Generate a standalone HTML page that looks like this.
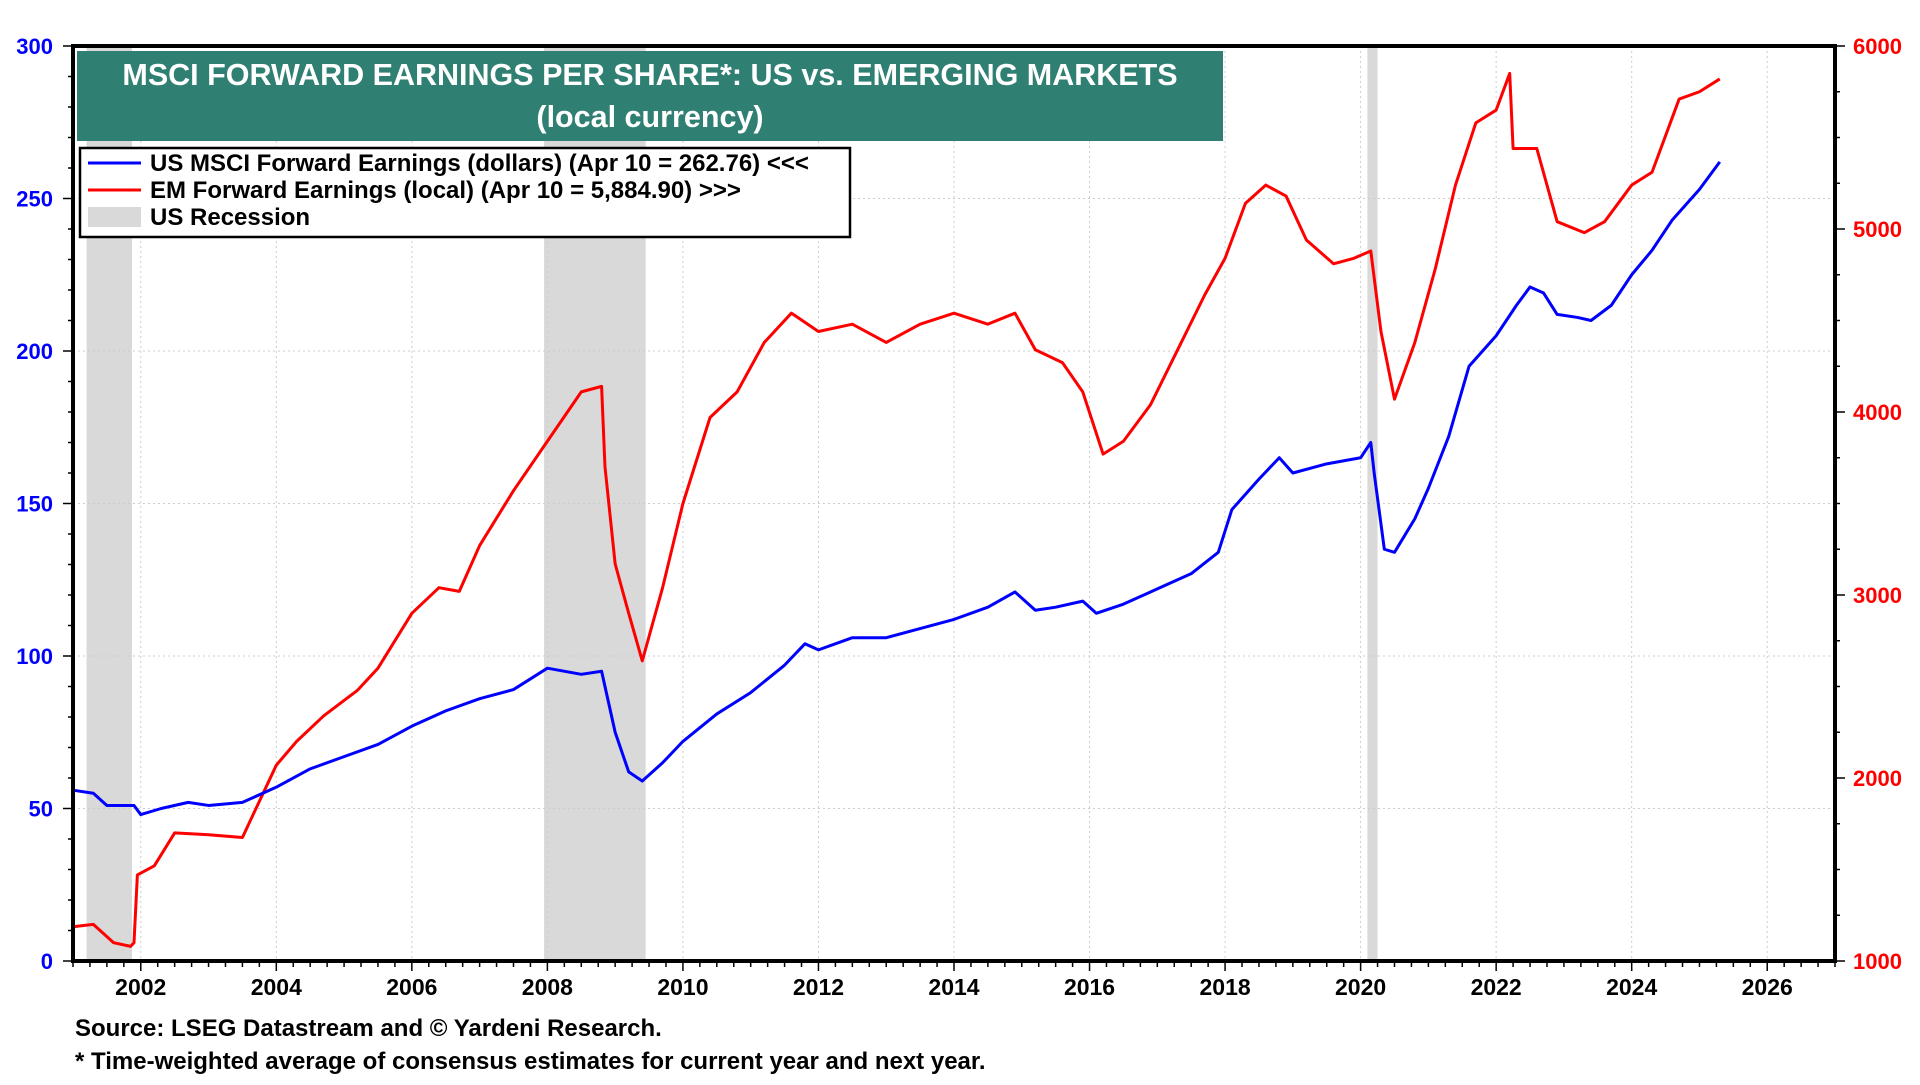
<!DOCTYPE html>
<html><head><meta charset="utf-8"><style>
body{margin:0;background:#fff;width:1920px;height:1080px;overflow:hidden;font-family:"Liberation Sans",Arial,sans-serif}
svg text{font-family:"Liberation Sans",Arial,sans-serif;font-weight:bold}
</style></head><body>
<svg id="chart" width="1920" height="1080" xmlns="http://www.w3.org/2000/svg"></svg>
<script>
const usX=[2001.0,2001.3,2001.5,2001.9,2002.0,2002.3,2002.7,2003.0,2003.5,2004.0,2004.5,2005.0,2005.5,2006.0,2006.5,2007.0,2007.5,2008.0,2008.5,2008.8,2008.9,2009.0,2009.2,2009.4,2009.7,2010.0,2010.5,2011.0,2011.5,2011.8,2012.0,2012.5,2013.0,2013.5,2014.0,2014.5,2014.9,2015.2,2015.5,2015.9,2016.1,2016.5,2017.0,2017.5,2017.9,2018.1,2018.5,2018.8,2019.0,2019.5,2020.0,2020.15,2020.2,2020.35,2020.5,2020.8,2021.0,2021.3,2021.6,2022.0,2022.3,2022.5,2022.7,2022.9,2023.2,2023.4,2023.7,2024.0,2024.3,2024.6,2025.0,2025.3];
const usY=[56,55,51,51,48,50,52,51,52,57,63,67,71,77,82,86,89,96,94,95,85,75,62,59,65,72,81,88,97,104,102,106,106,109,112,116,121,115,116,118,114,117,122,127,134,148,158,165,160,163,165,170,160,135,134,145,155,172,195,205,215,221,219,212,211,210,215,225,233,243,253,262];
const emX=[2001.0,2001.3,2001.6,2001.85,2001.9,2001.95,2002.2,2002.5,2003.0,2003.5,2004.0,2004.3,2004.7,2005.2,2005.5,2006.0,2006.4,2006.7,2007.0,2007.5,2008.0,2008.5,2008.8,2008.85,2009.0,2009.2,2009.4,2009.7,2010.0,2010.4,2010.8,2011.2,2011.6,2012.0,2012.5,2013.0,2013.5,2014.0,2014.5,2014.9,2015.2,2015.6,2015.9,2016.2,2016.5,2016.9,2017.3,2017.7,2018.0,2018.3,2018.6,2018.9,2019.2,2019.6,2019.9,2020.15,2020.3,2020.5,2020.8,2021.1,2021.4,2021.7,2022.0,2022.2,2022.25,2022.6,2022.9,2023.3,2023.6,2024.0,2024.3,2024.7,2025.0,2025.3];
const emY=[1187,1200,1100,1080,1100,1470,1520,1700,1690,1675,2070,2200,2340,2480,2600,2900,3040,3020,3270,3570,3840,4110,4140,3700,3170,2900,2640,3040,3500,3970,4110,4380,4540,4440,4480,4380,4480,4540,4480,4540,4340,4270,4110,3770,3840,4040,4340,4640,4840,5140,5240,5180,4940,4810,4840,4880,4440,4070,4380,4780,5240,5580,5650,5850,5440,5440,5040,4980,5040,5240,5310,5710,5750,5820];
const recessions=[[2001.2,2001.87],[2007.95,2009.45],[2020.1,2020.25]];
const leftTicks=[0,50,100,150,200,250,300];
const rightTicks=[1000,2000,3000,4000,5000,6000];
const yearTicks=[2002,2004,2006,2008,2010,2012,2014,2016,2018,2020,2022,2024,2026];

const L=73,R=1835,T=46,B=961;
const X=y=>L+(y-2001)*(R-L)/26;
const YL=v=>B-v*(B-T)/300;
const YR=v=>B-(v-1000)*(B-T)/5000;
const svg=document.getElementById('chart');
const NS='http://www.w3.org/2000/svg';
function add(tag,attrs,parent){const e=document.createElementNS(NS,tag);for(const k in attrs)e.setAttribute(k,attrs[k]);(parent||svg).appendChild(e);return e;}

recessions.forEach(r=>{
  const e=add('rect',{x:X(r[0]),y:T,width:X(r[1])-X(r[0]),height:B-T,fill:'#d9d9d9'});
  
  
});
yearTicks.forEach(y=>{
  const g=add('line',{x1:X(y),x2:X(y),y1:T,y2:B,stroke:'#ccc','stroke-dasharray':'2,3','stroke-width':1});
  
  
  const t=add('text',{x:X(y),y:B+34,'text-anchor':'middle','font-size':23,fill:'#000'});
  t.textContent=y;
  
  
});
for(let q=2001;q<=2027;q+=0.25){add('line',{x1:X(q),x2:X(q),y1:B,y2:B+(Number.isInteger(q)&&q%2==0?10:6),stroke:'#000','stroke-width':1.5});}
leftTicks.forEach(v=>{
  const g=add('line',{x1:L,x2:R,y1:YL(v),y2:YL(v),stroke:'#ccc','stroke-dasharray':'2,3','stroke-width':1});
  
  
  const t=add('text',{x:L-20,y:YL(v)+8,'text-anchor':'end','font-size':22,fill:'#0000ff'});
  t.textContent=v;
  
  
});
for(let v=0;v<=300;v+=10){add('line',{x1:L-(v%50==0?10:5),x2:L,y1:YL(v),y2:YL(v),stroke:'#000','stroke-width':1.5});}
rightTicks.forEach(v=>{
  const t=add('text',{x:R+18,y:YR(v)+8,'text-anchor':'start','font-size':22,fill:'#ff0000'});
  t.textContent=v;
  
  
});
for(let v=1000;v<=6000;v+=250){add('line',{x1:R,x2:R+(v%1000==0?10:5),y1:YR(v),y2:YR(v),stroke:'#000','stroke-width':1.5});}

const em=add('polyline',{points:emX.map((x,i)=>X(x)+','+YR(emY[i])).join(' '),fill:'none',stroke:'#ff0000','stroke-width':3,'stroke-linejoin':'round'});


const us=add('polyline',{points:usX.map((x,i)=>X(x)+','+YL(usY[i])).join(' '),fill:'none',stroke:'#0000ff','stroke-width':3,'stroke-linejoin':'round'});



const fr=add('rect',{x:L,y:T,width:R-L,height:B-T,fill:'none',stroke:'#000','stroke-width':4});



const tb=add('rect',{x:77,y:51,width:1146,height:90,fill:'#2f7f72'});


const t1=add('text',{x:650,y:85,'text-anchor':'middle','font-size':30.5,fill:'#fff'});
t1.textContent='MSCI FORWARD EARNINGS PER SHARE*: US vs. EMERGING MARKETS';


const t2=add('text',{x:650,y:127,'text-anchor':'middle','font-size':30.5,fill:'#fff'});
t2.textContent='(local currency)';



const lb=add('rect',{x:80,y:148,width:770,height:89,fill:'#fff',stroke:'#000','stroke-width':2.5});


const leg=[['line','#0000ff','US MSCI Forward Earnings (dollars) (Apr 10 = 262.76) <<<'],['line','#ff0000','EM Forward Earnings (local) (Apr 10 = 5,884.90) >>>'],['rect','#d9d9d9','US Recession']];
leg.forEach((l,i)=>{
  const y=163+i*27;
  if(l[0]=='line')add('line',{x1:88,x2:141,y1:y,y2:y,stroke:l[1],'stroke-width':3});
  else add('rect',{x:88,y:y-10,width:53,height:20,fill:l[1]});
  const t=add('text',{x:150,y:y+8,'font-size':24,fill:'#000'});
  t.textContent=l[2];
  
  
});

const s1=add('text',{x:75,y:1036,'font-size':24,fill:'#000'});
s1.textContent='Source: LSEG Datastream and © Yardeni Research.';


const s2=add('text',{x:75,y:1069,'font-size':24,fill:'#000'});
s2.textContent='* Time-weighted average of consensus estimates for current year and next year.';


</script>
</body></html>
